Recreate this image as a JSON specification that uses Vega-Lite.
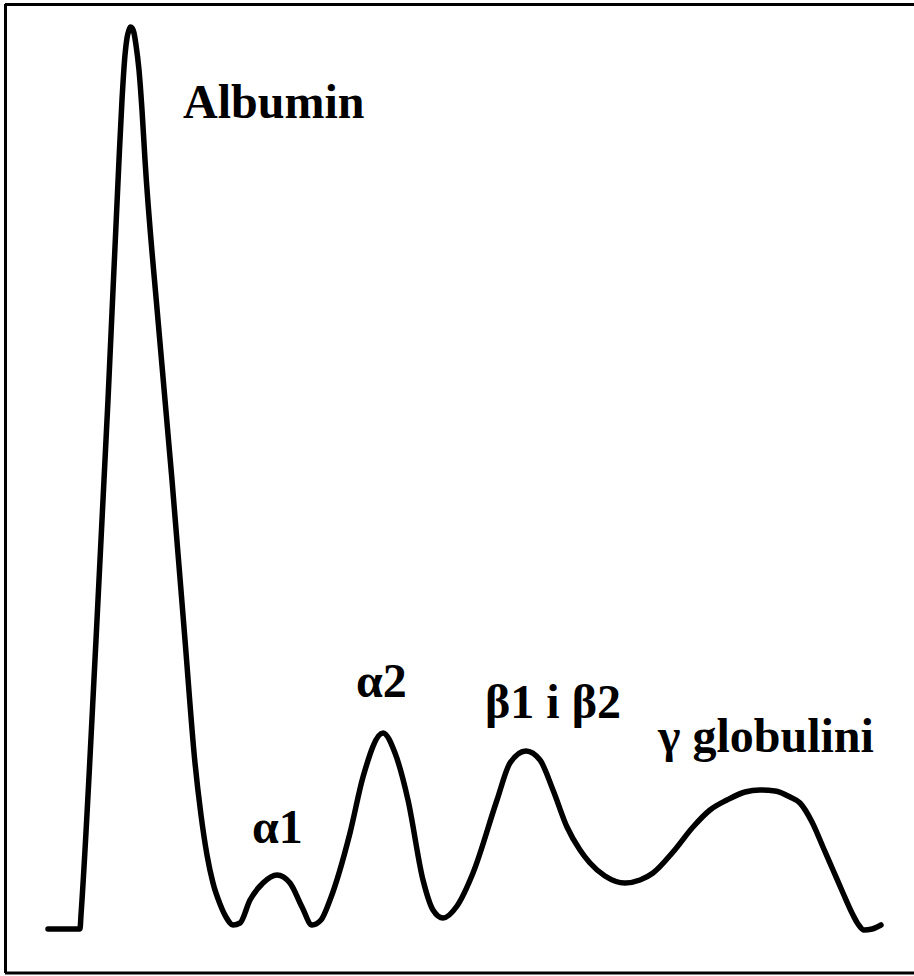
{
  "$schema": "https://vega.github.io/schema/vega-lite/v6.json",
  "background": "white",
  "autosize": "none",
  "width": 909,
  "height": 969,
  "padding": {"left": 5, "top": 4, "right": 0, "bottom": 3},
  "view": {"stroke": null},
  "datasets": {
    "curve": [
      {"mobility": 43, "intensity": 44},
      {"mobility": 75, "intensity": 44},
      {"mobility": 76, "intensity": 58},
      {"mobility": 91, "intensity": 333},
      {"mobility": 103, "intensity": 573},
      {"mobility": 114, "intensity": 813},
      {"mobility": 117, "intensity": 873},
      {"mobility": 120, "intensity": 918},
      {"mobility": 122, "intensity": 935},
      {"mobility": 124, "intensity": 943},
      {"mobility": 125.5, "intensity": 946},
      {"mobility": 127, "intensity": 945},
      {"mobility": 129, "intensity": 940},
      {"mobility": 131, "intensity": 928},
      {"mobility": 134, "intensity": 903},
      {"mobility": 137, "intensity": 863},
      {"mobility": 140, "intensity": 813},
      {"mobility": 153, "intensity": 653},
      {"mobility": 167, "intensity": 493},
      {"mobility": 180, "intensity": 333},
      {"mobility": 190, "intensity": 210},
      {"mobility": 196, "intensity": 158},
      {"mobility": 202, "intensity": 118},
      {"mobility": 208, "intensity": 90},
      {"mobility": 215, "intensity": 69},
      {"mobility": 221, "intensity": 56},
      {"mobility": 228, "intensity": 48},
      {"mobility": 235, "intensity": 50},
      {"mobility": 245, "intensity": 73},
      {"mobility": 258, "intensity": 90},
      {"mobility": 272, "intensity": 98},
      {"mobility": 285, "intensity": 90},
      {"mobility": 297, "intensity": 66},
      {"mobility": 307, "intensity": 48},
      {"mobility": 316, "intensity": 53},
      {"mobility": 325, "intensity": 73},
      {"mobility": 345, "intensity": 140},
      {"mobility": 358, "intensity": 196},
      {"mobility": 378, "intensity": 240},
      {"mobility": 390, "intensity": 220},
      {"mobility": 403, "intensity": 173},
      {"mobility": 418, "intensity": 93},
      {"mobility": 428, "intensity": 63},
      {"mobility": 438, "intensity": 55},
      {"mobility": 452, "intensity": 67},
      {"mobility": 468, "intensity": 100},
      {"mobility": 492, "intensity": 173},
      {"mobility": 505, "intensity": 210},
      {"mobility": 521, "intensity": 222},
      {"mobility": 535, "intensity": 213},
      {"mobility": 548, "intensity": 183},
      {"mobility": 562, "intensity": 146},
      {"mobility": 575, "intensity": 123},
      {"mobility": 585, "intensity": 110},
      {"mobility": 600, "intensity": 97},
      {"mobility": 620, "intensity": 90},
      {"mobility": 635, "intensity": 93},
      {"mobility": 648, "intensity": 100},
      {"mobility": 668, "intensity": 121},
      {"mobility": 688, "intensity": 146},
      {"mobility": 705, "intensity": 163},
      {"mobility": 722, "intensity": 173},
      {"mobility": 740, "intensity": 181},
      {"mobility": 755, "intensity": 183},
      {"mobility": 770, "intensity": 182},
      {"mobility": 785, "intensity": 176},
      {"mobility": 795, "intensity": 170},
      {"mobility": 807, "intensity": 151},
      {"mobility": 818, "intensity": 126},
      {"mobility": 828, "intensity": 103},
      {"mobility": 838, "intensity": 80},
      {"mobility": 848, "intensity": 58},
      {"mobility": 853, "intensity": 49},
      {"mobility": 859, "intensity": 43},
      {"mobility": 867, "intensity": 44},
      {"mobility": 876, "intensity": 48}
    ],
    "labels": [
      {"label": "Albumin", "mobility": 178, "intensity": 855},
      {"label": "α1", "mobility": 247, "intensity": 130},
      {"label": "α2", "mobility": 351, "intensity": 276},
      {"label": "β1 i β2", "mobility": 480, "intensity": 255},
      {"label": "γ globulini", "mobility": 653, "intensity": 221}
    ],
    "frame": [{"edge": "frame"}]
  },
  "layer": [
    {
      "data": {"name": "curve"},
      "mark": {
        "type": "line",
        "interpolate": "monotone",
        "color": "black",
        "strokeWidth": 5.5,
        "strokeCap": "round",
        "strokeJoin": "round"
      },
      "encoding": {
        "x": {
          "field": "mobility",
          "type": "quantitative",
          "scale": {"domain": [0, 909], "nice": false, "zero": false},
          "axis": null
        },
        "y": {
          "field": "intensity",
          "type": "quantitative",
          "scale": {"domain": [0, 969], "nice": false, "zero": false},
          "axis": null
        }
      }
    },
    {
      "data": {"name": "labels"},
      "mark": {
        "type": "text",
        "align": "left",
        "baseline": "alphabetic",
        "font": "Liberation Serif",
        "fontWeight": "bold",
        "fontSize": 48,
        "color": "black"
      },
      "encoding": {
        "x": {"field": "mobility", "type": "quantitative"},
        "y": {"field": "intensity", "type": "quantitative"},
        "text": {"field": "label", "type": "nominal"}
      }
    },
    {
      "data": {"name": "frame"},
      "mark": {"type": "rule", "color": "black", "strokeWidth": 3},
      "encoding": {"x": {"datum": 0.5, "type": "quantitative"}}
    },
    {
      "data": {"name": "frame"},
      "mark": {"type": "rule", "color": "black", "strokeWidth": 3},
      "encoding": {"y": {"datum": 968.5, "type": "quantitative"}}
    },
    {
      "data": {"name": "frame"},
      "mark": {"type": "rule", "color": "black", "strokeWidth": 3},
      "encoding": {"y": {"datum": 0, "type": "quantitative"}}
    }
  ]
}
